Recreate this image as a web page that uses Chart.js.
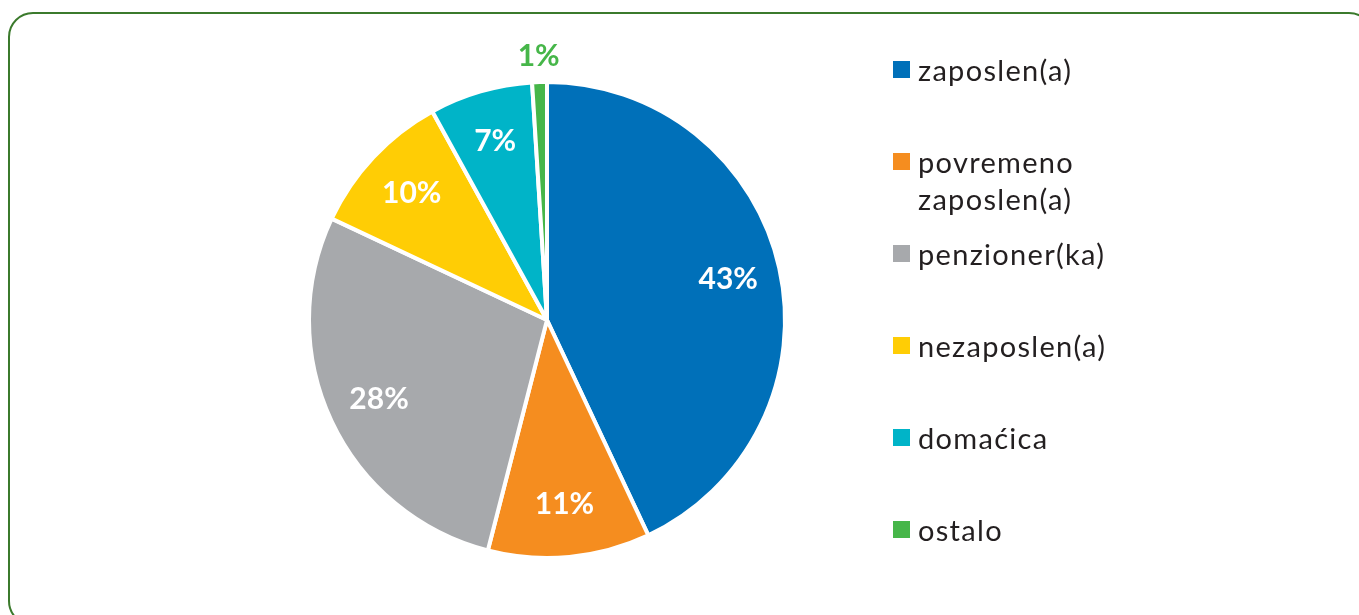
<!DOCTYPE html>
<html>
<head>
<meta charset="utf-8">
<script src="https://cdn.jsdelivr.net/npm/chart.js@4"></script>
<style>
  html, body { margin: 0; padding: 0; background: #fff; }
  body { width: 1359px; height: 615px; position: relative; overflow: hidden; }
  #frame {
    position: absolute; left: 8px; top: 12px; width: 1362px; height: 610px;
    border: 2px solid #3b7a2c; border-radius: 25px;
  }
  #wrap { position: absolute; left: 0; top: 0; width: 1359px; height: 615px; }
  #legend { position: absolute; left: 893px; top: 0; font-family: Lato, sans-serif; font-size: 29px; color: #231f20; }
  .item { position: absolute; left: 0; white-space: nowrap; }
  .box { position: absolute; left: 0; width: 17px; height: 17px; }
  .txt { position: absolute; left: 25px; line-height: 37px; letter-spacing: 1.3px; }
</style>
</head>
<body>
<div id="frame"></div>
<div id="wrap"><canvas id="graph" width="1359" height="615"></canvas></div>
<div id="legend"></div>
<script>
// podaci
const kategorije = ['zaposlen(a)', 'povremeno zaposlen(a)', 'penzioner(ka)', 'nezaposlen(a)', 'domaćica', 'ostalo'];
const legendaTekst = [['zaposlen(a)'], ['povremeno', 'zaposlen(a)'], ['penzioner(ka)'], ['nezaposlen(a)'], ['domaćica'], ['ostalo']];
const procenti = [43, 11, 28, 10, 7, 1];
const boje = ['#0070b9', '#f58d1f', '#a7a9ac', '#ffcd05', '#00b4c8', '#46b649'];

// oznake na kriskama
const labelPlugin = {
  id: 'pctLabels',
  afterDatasetsDraw(chart) {
    const ctx = chart.ctx;
    const meta = chart.getDatasetMeta(0);
    ctx.save();
    ctx.font = 'bold 30px Lato, sans-serif';
    ctx.textAlign = 'center';
    ctx.textBaseline = 'middle';
    meta.data.forEach((arc, i) => {
      const p = arc.getProps(['x', 'y', 'startAngle', 'endAngle', 'outerRadius'], true);
      const mid = (p.startAngle + p.endAngle) / 2;
      const small = procenti[i] < 3;
      const r = p.outerRadius * (small ? 1.11 : 0.78);
      ctx.fillStyle = small ? boje[i] : '#ffffff';
      ctx.fillText(procenti[i] + '%', p.x + Math.cos(mid) * r, p.y + Math.sin(mid) * r);
    });
    ctx.restore();
  }
};

const canvas = document.getElementById('graph');
new Chart(canvas.getContext('2d'), {
  type: 'pie',
  data: {
    labels: kategorije,
    datasets: [{
      data: procenti,
      backgroundColor: boje,
      borderColor: '#ffffff',
      borderWidth: 4
    }]
  },
  options: {
    responsive: false,
    animation: false,
    layout: { padding: { left: 307, right: 572, top: 80, bottom: 55 } },
    plugins: {
      legend: { display: false },
      tooltip: { enabled: false }
    }
  },
  plugins: [labelPlugin]
});

// legenda
const legend = document.getElementById('legend');
legendaTekst.forEach((linije, i) => {
  const c = 70 + i * 92;
  const item = document.createElement('div');
  item.className = 'item';
  item.style.top = (c - 9) + 'px';
  const box = document.createElement('div');
  box.className = 'box';
  box.style.background = boje[i];
  const txt = document.createElement('div');
  txt.className = 'txt';
  txt.style.top = '-10px';
  txt.innerHTML = linije.join('<br>');
  item.appendChild(box);
  item.appendChild(txt);
  legend.appendChild(item);
});
</script>
</body>
</html>
